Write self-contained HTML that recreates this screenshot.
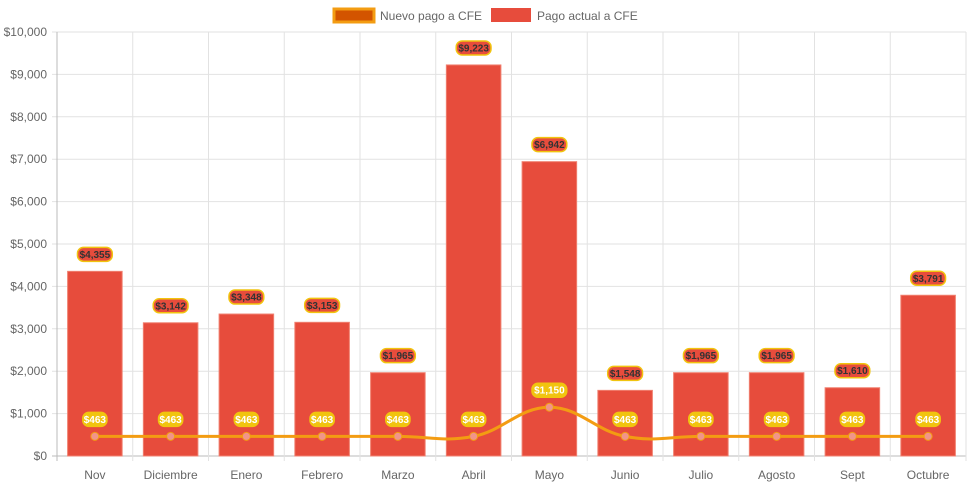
<!DOCTYPE html>
<html><head><meta charset="utf-8"><style>
body{margin:0;background:#fff;font-family:"Liberation Sans",sans-serif}
svg{display:block}
</style></head><body>
<svg id="c" width="971" height="485"></svg>
<script>
const categories=["Nov","Diciembre","Enero","Febrero","Marzo","Abril","Mayo","Junio","Julio","Agosto","Sept","Octubre"];
const actual=[4355,3142,3348,3153,1965,9223,6942,1548,1965,1965,1610,3791];
const nuevo=[463,463,463,463,463,463,1150,463,463,463,463,463];
const yTicks=[0,1000,2000,3000,4000,5000,6000,7000,8000,9000,10000];
const NS="http://www.w3.org/2000/svg";
const svg=document.getElementById('c');
const L=57,R=966,T=32,B=456,yMax=10000;
const cw=(R-L)/categories.length;
const x=i=>L+cw*(i+0.5);
const y=v=>B-(v/yMax)*(B-T);
const fmt=v=>'$'+v.toLocaleString('en-US');
function el(t,a,p){const e=document.createElementNS(NS,t);for(const k in a)e.setAttribute(k,a[k]);(p||svg).appendChild(e);return e;}
yTicks.forEach(v=>{
 const g=el('line',{x1:L-5,x2:R,y1:y(v),y2:y(v),stroke:v===0?'#bbb':'#e2e2e2','stroke-width':1});
 
 
 const t=el('text',{x:L-10,y:y(v)+4,'text-anchor':'end','font-size':12,fill:'#666'});
 t.textContent=fmt(v);
 
 
});
for(let i=0;i<=categories.length;i++){
 const g=el('line',{x1:L+cw*i,x2:L+cw*i,y1:T,y2:B+5,stroke:i===0?'#bbb':'#e2e2e2','stroke-width':1});
 
 
}
categories.forEach((c,i)=>{
 const t=el('text',{x:x(i),y:479,'text-anchor':'middle','font-size':12,fill:'#666'});
 t.textContent=c;
 
 
});
const bw=cw*0.72;
actual.forEach((v,i)=>{
 const r=el('rect',{x:x(i)-bw/2,y:y(v),width:bw,height:B-y(v),fill:'#e74c3c',stroke:'#f08070','stroke-width':1});
 
 
});
const pts=nuevo.map((v,i)=>[x(i),y(v)]);
let d='M'+pts[0][0]+','+pts[0][1];
const tn=0.4;
for(let i=0;i<pts.length-1;i++){
 const p0=pts[Math.max(0,i-1)],p1=pts[i],p2=pts[i+1],p3=pts[Math.min(pts.length-1,i+2)];
 const c1=[p1[0]+(p2[0]-p0[0])*tn/2,p1[1]+(p2[1]-p0[1])*tn/2];
 const c2=[p2[0]-(p3[0]-p1[0])*tn/2,p2[1]-(p3[1]-p1[1])*tn/2];
 d+=` C${c1[0]},${c1[1]} ${c2[0]},${c2[1]} ${p2[0]},${p2[1]}`;
}
const ln=el('path',{d:d,fill:'none',stroke:'#f39c12','stroke-width':3});


pts.forEach((p,i)=>{
 const c=el('circle',{cx:p[0],cy:p[1],r:4,fill:'#f1948a',stroke:'#f39c12','stroke-width':1});
 
 
});
function pill(cx,cy,txt,fill,stroke,col,name){
 const w=txt.length*5.3+3;
 const r=el('rect',{x:cx-w/2,y:cy-7,width:w,height:14,rx:6,fill:fill,stroke:stroke,'stroke-width':1.5});
 
 
 const t=el('text',{x:cx,y:cy+3.5,'text-anchor':'middle','font-size':10,'font-weight':'bold',fill:col});
 t.textContent=txt;
 
 
}
actual.forEach((v,i)=>pill(x(i),y(v)-17,fmt(v),'#e74c3c','#f1c40f','#333','bar-value-label'));
nuevo.forEach((v,i)=>pill(x(i),y(v)-17,fmt(v),'#f1c40f','#f1c40f','#fff','line-value-label'));
const lg=el('g',{});


const r1=el('rect',{x:334,y:9,width:40,height:13,fill:'#d35400',stroke:'#f39c12','stroke-width':3},lg);


const t1=el('text',{x:380,y:20,'font-size':12,fill:'#666'},lg);t1.textContent='Nuevo pago a CFE';


const r2=el('rect',{x:491,y:8,width:40,height:14,fill:'#e74c3c'},lg);


const t2=el('text',{x:537,y:20,'font-size':12,fill:'#666'},lg);t2.textContent='Pago actual a CFE';


</script>
</body></html>
